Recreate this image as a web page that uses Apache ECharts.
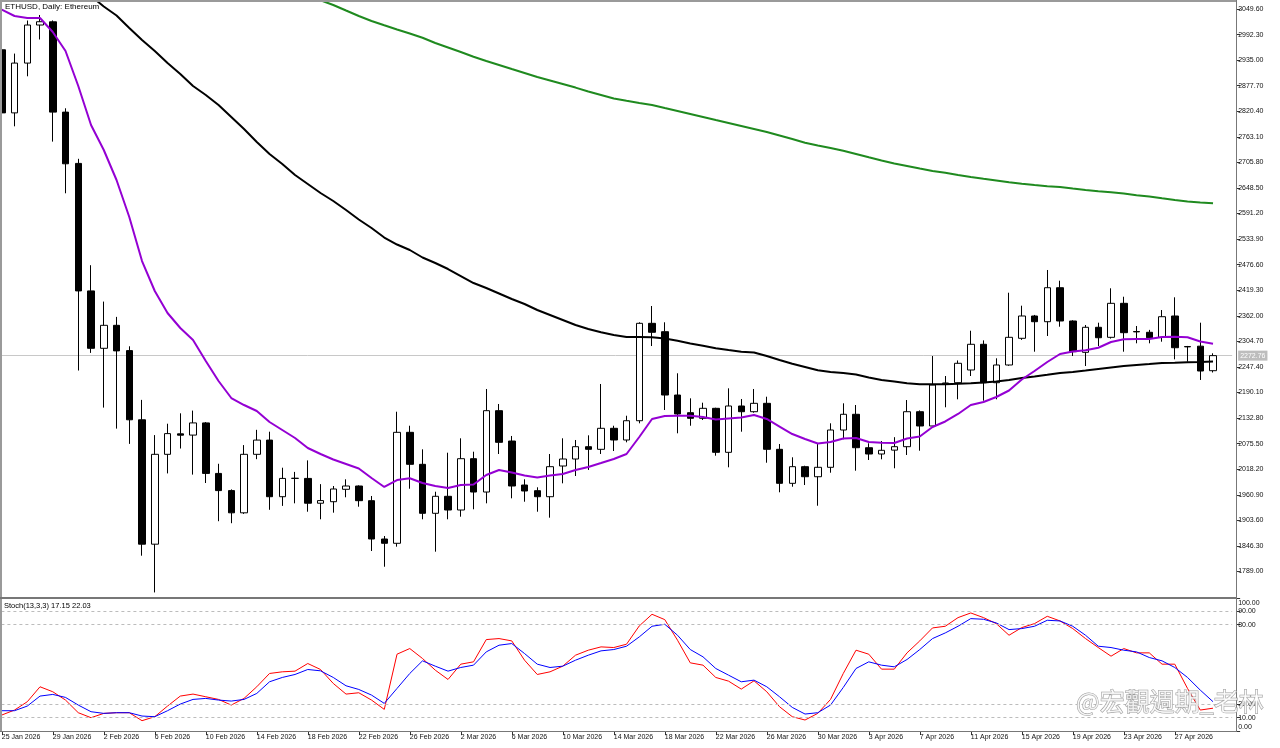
<!DOCTYPE html>
<html>
<head>
<meta charset="utf-8">
<title>ETHUSD Daily</title>
<script src="https://cdn.jsdelivr.net/npm/echarts@6.0.0/dist/echarts.min.js"></script>
<style>
html, body { margin: 0; padding: 0; background: #fff; }
#chart { width: 1280px; height: 748px; }
</style>
</head>
<body>
<div id="chart"></div>
<script>
// daily bars, 25 Jan 2026 .. 30 Apr 2026
var monthSpans = [['Jan', 25, 31], ['Feb', 1, 28], ['Mar', 1, 31], ['Apr', 1, 30]];
var dates = [];
monthSpans.forEach(function (m) {
    for (var d = m[1]; d <= m[2]; d++) dates.push(d + ' ' + m[0] + ' 2026');
});

var opens = [2958.2, 2816.8, 2928.4, 3013.7, 3020.9, 2818.5, 2703.6, 2417.8, 2289.2, 2340.7,
    2284.0, 2129.0, 1850.2, 2051.6, 2097.5, 2094.7, 2122.0, 2008.8, 1970.3, 1920.5,
    2051.6, 2083.5, 1956.6, 1997.6, 1997.6, 1942.0, 1945.4, 1973.2, 1980.6, 1947.7,
    1861.8, 1852.2, 2100.9, 2029.2, 1919.4, 1957.5, 1926.8, 2041.8, 1967.1, 2149.4,
    2081.4, 1982.8, 1970.1, 1956.6, 2025.4, 2041.1, 2068.7, 2062.8, 2109.9, 2083.7,
    2126.9, 2345.2, 2326.4, 2184.5, 2144.9, 2132.3, 2154.7, 2056.1, 2159.9, 2147.1,
    2165.9, 2062.8, 1986.6, 2023.9, 2001.4, 2022.5, 2106.1, 2141.3, 2066.4, 2052.3,
    2061.0, 2068.7, 2147.1, 2115.1, 2209.5, 2212.1, 2240.6, 2298.2, 2212.1, 2251.8,
    2311.6, 2361.6, 2348.8, 2425.0, 2350.4, 2280.2, 2336.3, 2313.8, 2390.0, 2326.8,
    2325.1, 2313.8, 2361.6, 2293.2, 2294.0, 2239.0];
var closes = [2816.8, 2928.4, 3013.7, 3021.1, 2818.5, 2702.7, 2417.8, 2289.2, 2340.7, 2283.4,
    2129.0, 1850.2, 2051.6, 2098.0, 2094.5, 2122.0, 2008.8, 1970.3, 1920.5, 2051.6,
    2083.5, 1956.6, 1997.6, 1998.0, 1942.0, 1947.9, 1973.9, 1980.6, 1947.7, 1861.8,
    1852.2, 2100.9, 2029.2, 1919.4, 1957.5, 1926.8, 2041.8, 1967.1, 2149.4, 2078.5,
    1980.6, 1969.4, 1956.6, 2023.9, 2041.1, 2068.7, 2062.8, 2109.9, 2083.7, 2126.9,
    2345.2, 2325.1, 2184.5, 2142.0, 2132.3, 2154.7, 2056.1, 2159.9, 2147.1, 2165.9,
    2062.8, 1986.6, 2023.9, 2001.4, 2022.5, 2106.1, 2141.3, 2066.4, 2052.3, 2060.6,
    2068.7, 2147.1, 2115.1, 2206.9, 2211.5, 2255.6, 2298.2, 2212.1, 2251.8, 2313.8,
    2361.6, 2348.8, 2425.0, 2350.4, 2281.6, 2336.3, 2312.9, 2390.0, 2324.2, 2326.0,
    2312.9, 2360.0, 2290.5, 2292.4, 2238.3, 2272.76];
var lows = [2812.0, 2786.7, 2898.8, 2981.3, 2752.4, 2636.6, 2239.4, 2278.9, 2156.3, 2109.2,
    2075.0, 1824.4, 1742.1, 2008.8, 2064.6, 2006.1, 1987.3, 1901.7, 1897.2, 1918.0,
    2040.7, 1927.3, 1936.0, 1941.8, 1923.0, 1906.0, 1920.8, 1955.3, 1934.2, 1834.9,
    1799.7, 1844.6, 1974.5, 1906.0, 1833.4, 1906.0, 1911.8, 1928.4, 1941.8, 2052.3,
    1953.0, 1945.4, 1923.0, 1909.6, 1986.6, 2003.0, 2016.5, 2052.3, 2059.0, 2078.5,
    2121.1, 2294.3, 2150.9, 2098.7, 2115.7, 2128.5, 2048.5, 2022.5, 2102.3, 2144.9,
    2032.8, 1966.5, 1979.0, 1982.8, 1936.4, 2010.4, 2085.3, 2014.9, 2038.9, 2040.4,
    2020.3, 2050.1, 2059.7, 2112.0, 2157.0, 2174.9, 2227.1, 2171.8, 2174.9, 2250.0,
    2308.0, 2281.6, 2316.8, 2337.6, 2271.9, 2249.5, 2294.3, 2311.0, 2281.6, 2300.4,
    2300.4, 2304.0, 2264.5, 2259.2, 2218.2, 2235.0];
var highs = [2962.0, 2949.7, 3023.8, 3036.2, 3024.0, 2827.1, 2713.9, 2475.4, 2393.9, 2359.6,
    2293.7, 2173.6, 2094.7, 2120.2, 2143.5, 2149.6, 2124.0, 2030.4, 1973.0, 2072.3,
    2106.5, 2102.3, 2021.6, 2012.2, 2038.0, 1984.8, 1980.6, 1995.6, 1982.0, 1958.2,
    1868.5, 2147.1, 2115.7, 2062.8, 1967.8, 2055.2, 2087.5, 2057.5, 2198.0, 2164.4,
    2092.7, 1995.6, 1977.7, 2052.3, 2087.5, 2083.7, 2094.2, 2209.2, 2115.7, 2138.1,
    2347.5, 2384.0, 2347.5, 2233.2, 2177.1, 2167.3, 2156.0, 2199.5, 2175.6, 2198.0,
    2180.7, 2074.7, 2044.9, 2026.0, 2076.3, 2121.1, 2165.9, 2162.1, 2076.3, 2081.4,
    2090.0, 2173.3, 2150.0, 2271.9, 2227.1, 2262.0, 2328.6, 2307.0, 2266.8, 2413.8,
    2384.7, 2364.0, 2464.7, 2440.7, 2352.0, 2341.4, 2346.6, 2423.7, 2404.8, 2339.2,
    2330.5, 2375.0, 2403.5, 2294.5, 2346.6, 2278.0];

// moving averages as drawn on the chart
var maFast = [3048.3, 3033.9, 3029.4, 3029.4, 2998.1, 2955.5, 2877.0, 2789.6, 2733.6, 2666.4,
    2583.5, 2484.8, 2417.6, 2368.3, 2334.7, 2307.8, 2260.7, 2215.9, 2177.8, 2162.1,
    2148.7, 2124.0, 2106.1, 2088.2, 2065.8, 2052.3, 2040.0, 2029.9, 2019.8, 1998.5,
    1978.4, 1994.0, 1997.9, 1987.3, 1980.6, 1976.1, 1982.8, 1984.0, 2005.3, 2016.5,
    2010.9, 2004.1, 1999.7, 2004.1, 2007.5, 2016.5, 2023.2, 2032.1, 2041.1, 2052.3,
    2090.4, 2130.8, 2137.5, 2138.1, 2138.1, 2135.2, 2129.6, 2131.9, 2134.1, 2139.7,
    2130.8, 2113.9, 2097.1, 2085.9, 2075.8, 2079.2, 2087.1, 2088.2, 2079.2, 2077.6,
    2077.0, 2087.1, 2091.5, 2112.8, 2125.2, 2142.0, 2162.1, 2168.9, 2180.1, 2194.6,
    2219.3, 2238.3, 2258.5, 2276.4, 2282.0, 2284.7, 2290.5, 2303.3, 2309.6, 2310.0,
    2310.0, 2314.5, 2315.0, 2314.1, 2304.4, 2299.3];
var maMid = [null, null, null, null, null, null,
    3103.4, 3078.7, 3055.2, 3035.0, 3007.0, 2980.1, 2955.5, 2928.6, 2903.9, 2877.0,
    2856.9, 2834.5, 2807.6, 2780.7, 2751.5, 2724.6, 2702.2, 2677.6, 2657.4, 2637.2,
    2619.3, 2599.1, 2577.9, 2558.8, 2537.5, 2521.8, 2509.5, 2492.7, 2480.4, 2466.9,
    2451.2, 2435.5, 2424.3, 2412.0, 2399.7, 2388.5, 2375.0, 2363.8, 2352.6, 2341.4,
    2332.5, 2325.1, 2319.0, 2314.5, 2314.5, 2313.9, 2311.2, 2306.0, 2300.0, 2295.0,
    2289.4, 2285.4, 2281.6, 2279.8, 2271.9, 2263.0, 2254.5, 2247.3, 2240.1, 2236.1,
    2233.8, 2230.5, 2223.8, 2218.2, 2214.8, 2211.0, 2208.5, 2208.5, 2208.7, 2209.6,
    2210.8, 2212.6, 2214.8, 2218.2, 2222.6, 2226.0, 2229.8, 2233.8, 2236.1, 2239.4,
    2242.8, 2246.2, 2249.5, 2251.8, 2254.0, 2256.3, 2256.9, 2257.8, 2258.5, 2259.6];
var maSlow = [null, null, null, null, null, null, null, null, null, null, null, null,
    null, null, null, null, null, null, null, null, null, null, null, null,
    3079.9, 3069.3, 3058.6, 3046.2, 3033.9, 3022.7, 3013.1, 3003.7, 2994.7, 2985.1,
    2973.4, 2963.3, 2953.2, 2942.5, 2933.1, 2924.1, 2915.1, 2906.2, 2897.2, 2889.4,
    2881.5, 2873.5, 2864.7, 2856.9, 2849.0, 2843.9, 2838.9, 2834.5, 2827.7, 2821.0,
    2814.3, 2807.6, 2800.8, 2794.1, 2787.4, 2780.7, 2773.9, 2766.1, 2758.3, 2750.0,
    2743.7, 2738.1, 2731.8, 2724.6, 2717.2, 2710.1, 2703.4, 2697.8, 2692.1, 2686.5,
    2682.5, 2677.6, 2673.1, 2669.1, 2665.3, 2661.2, 2658.1, 2655.2, 2652.5, 2650.7,
    2647.3, 2644.0, 2641.1, 2639.0, 2636.1, 2632.3, 2629.4, 2625.4, 2621.6, 2618.2, 2616.0, 2614.2];

// Stoch(13,3,3)
var stochMain = [12, 15.75, 22, 33.25, 29.5, 23.25, 13.75, 10, 13.25, 13.75,
    13.75, 7.75, 10.75, 18.75, 26.25, 27.75, 25.75, 23.75, 19.5, 24.5,
    33.25, 43.25, 44.5, 45, 50.75, 46.25, 35.75, 27.75, 28.75, 23.25,
    16.25, 57.75, 62, 54.5, 45.75, 38.75, 50.25, 52, 68.75, 69.5,
    67.75, 53.25, 42.5, 44.5, 48.75, 57, 60.75, 63.25, 62.75, 65.25,
    79, 87.75, 83.75, 68.25, 51.25, 49.5, 40.25, 37.5, 31.5, 37.75,
    29.5, 18.25, 10.75, 8.25, 13.25, 23.75, 43.25, 60.75, 57.75, 46.5,
    46.5, 58.75, 67.75, 77.5, 78.75, 85.25, 88.75, 85.25, 80.75, 72,
    77.75, 80.75, 86.25, 82.75, 77, 69.5, 62.75, 56.25, 62, 58.75,
    58.75, 50.25, 50.25, 32, 15.75, 17.15];
var stochSignal = [15.25, 15.25, 18.75, 26.25, 27.5, 25.25, 19.5, 14.5, 13.25, 13.75,
    13.75, 11.25, 10.75, 15.25, 20.25, 23.75, 24.5, 23.25, 22.5, 23.75,
    28.25, 37, 40.25, 42.5, 46.25, 45.25, 40.25, 34, 31.25, 27,
    20.75, 32, 43.25, 52.75, 48.75, 45, 47.75, 49.5, 59.5, 64.5,
    65.75, 58.25, 50.25, 47.75, 48.75, 53.25, 57, 60.25, 61.25, 63.75,
    70.75, 78.75, 80.25, 72, 61.25, 55.75, 47, 42, 37, 38.25,
    33.25, 25.75, 17.75, 12.75, 13.75, 19.5, 32.75, 47, 52, 49.5,
    48.25, 53.75, 61.25, 69.5, 73.75, 78.75, 84.5, 84, 81.25, 76.25,
    77, 78.75, 83.25, 82.75, 78.75, 72, 63.75, 62.75, 60.75, 59.5,
    55.25, 52.75, 47.75, 40.25, 30.75, 22.03];

var priceTicks = [1789.00, 1846.30, 1903.60, 1960.90, 2018.20, 2075.50, 2132.80, 2190.10,
    2247.40, 2304.70, 2362.00, 2419.30, 2476.60, 2533.90, 2591.20, 2648.50, 2705.80,
    2763.10, 2820.40, 2877.70, 2935.00, 2992.30, 3049.60];
var stochTicks = [0, 10, 20, 80, 90, 100];
var stochLevels = [10, 20, 80, 90];
var lastPrice = 2272.76;

var categories = dates.concat(['']);
var ohlc = dates.map(function (d, i) {
    return [opens[i], closes[i], lows[i], highs[i]];
});
var levelLines = stochLevels.map(function (v) { return {yAxis: v}; });

var FONT = 'Liberation Sans';
var TXT = '#111';
var showEvery4 = function (idx, val) { return val !== '' && idx % 4 === 0; };

var dom = document.getElementById('chart');
var myChart = echarts.init(dom, null, {renderer: 'canvas'});

var option = {
    backgroundColor: '#ffffff',
    animation: false,
    grid: [
        {left: -4.6, top: 2, width: 1236.75, height: 596, outerBoundsMode: 'none', containLabel: false},
        {left: -4.6, top: 598, width: 1236.75, height: 133, outerBoundsMode: 'none', containLabel: false}
    ],
    xAxis: [
        {type: 'category', gridIndex: 0, data: categories, boundaryGap: true, show: false},
        {
            type: 'category', gridIndex: 1, data: categories, boundaryGap: true,
            axisLine: {show: true, lineStyle: {color: '#777', width: 1}},
            axisTick: {show: true, alignWithLabel: true, length: 4, interval: showEvery4, lineStyle: {color: '#333'}},
            axisLabel: {interval: showEvery4, align: 'left', margin: 3, fontSize: 7, fontFamily: FONT, color: TXT},
            splitLine: {show: false}
        }
    ],
    yAxis: [
        {
            type: 'value', gridIndex: 0, position: 'right', offset: 4,
            min: 1729.6, max: 3065.3, scale: true,
            axisLine: {show: false},
            splitLine: {show: false},
            axisTick: {show: true, length: 4, customValues: priceTicks, lineStyle: {color: '#333'}},
            axisLabel: {
                customValues: priceTicks, margin: 2, fontSize: 7, fontFamily: FONT, color: TXT,
                formatter: function (v) { return v.toFixed(2); }
            }
        },
        {
            type: 'value', gridIndex: 1, position: 'right', offset: 4,
            min: 0, max: 100,
            axisLine: {show: false},
            splitLine: {show: false},
            axisTick: {show: true, length: 4, customValues: stochTicks, lineStyle: {color: '#333'}},
            axisLabel: {
                customValues: stochTicks, margin: 2, fontSize: 7, fontFamily: FONT, color: TXT,
                formatter: function (v) {
                    if (v === 100) return '{t|100.00}';
                    if (v === 0) return '{b|0.00}';
                    return v.toFixed(2);
                },
                rich: {
                    t: {padding: [10, 0, 0, 0], fontSize: 7, fontFamily: FONT, color: TXT},
                    b: {padding: [0, 0, 8, 0], fontSize: 7, fontFamily: FONT, color: TXT}
                }
            }
        }
    ],
    series: [
        {
            name: 'ETHUSD', type: 'candlestick', xAxisIndex: 0, yAxisIndex: 0,
            data: ohlc, barWidth: 7, z: 3,
            itemStyle: {
                color: '#ffffff', color0: '#000000',
                borderColor: '#000000', borderColor0: '#000000', borderColorDoji: '#000000',
                borderWidth: 1
            },
            markLine: {
                silent: true, symbol: ['none', 'none'], animation: false, z: 1,
                lineStyle: {color: '#c8c8c8', type: 'solid', width: 1},
                label: {
                    show: true, position: 'end', distance: 6,
                    formatter: lastPrice.toFixed(2),
                    fontSize: 7, fontFamily: FONT, color: '#ffffff',
                    backgroundColor: '#bdbdbd', padding: [2, 2, 1, 2]
                },
                data: [{yAxis: lastPrice}]
            }
        },
        {
            name: 'MA slow', type: 'line', xAxisIndex: 0, yAxisIndex: 0, data: maSlow,
            symbol: 'none', silent: true, z: 4,
            lineStyle: {color: '#1f8a1f', width: 2}
        },
        {
            name: 'MA mid', type: 'line', xAxisIndex: 0, yAxisIndex: 0, data: maMid,
            symbol: 'none', silent: true, z: 4,
            lineStyle: {color: '#000000', width: 2}
        },
        {
            name: 'MA fast', type: 'line', xAxisIndex: 0, yAxisIndex: 0, data: maFast,
            symbol: 'none', silent: true, z: 5,
            lineStyle: {color: '#9400d3', width: 2}
        },
        {
            name: 'Stoch main', type: 'line', xAxisIndex: 1, yAxisIndex: 1, data: stochMain,
            symbol: 'none', silent: true, z: 4,
            lineStyle: {color: '#ff0000', width: 1},
            markLine: {
                silent: true, symbol: ['none', 'none'], animation: false,
                lineStyle: {color: '#bcbcbc', type: [3, 3], width: 1},
                label: {show: false},
                data: levelLines
            }
        },
        {
            name: 'Stoch signal', type: 'line', xAxisIndex: 1, yAxisIndex: 1, data: stochSignal,
            symbol: 'none', silent: true, z: 4,
            lineStyle: {color: '#0000ff', width: 1}
        }
    ],
    graphic: {
        elements: [
            {type: 'line', silent: true, z: 100, shape: {x1: 0, y1: 1, x2: 1237, y2: 1}, style: {stroke: '#9a9a9a', lineWidth: 2}},
            {type: 'line', silent: true, z: 100, shape: {x1: 1, y1: 0, x2: 1, y2: 731}, style: {stroke: '#9a9a9a', lineWidth: 2}},
            {type: 'line', silent: true, z: 100, shape: {x1: 1236.5, y1: 0, x2: 1236.5, y2: 732}, style: {stroke: '#777', lineWidth: 1}},
            {type: 'line', silent: true, z: 100, shape: {x1: 0, y1: 598, x2: 1237, y2: 598}, style: {stroke: '#777', lineWidth: 2}},
            {type: 'line', silent: true, z: 100, shape: {x1: 0, y1: 731.5, x2: 1237, y2: 731.5}, style: {stroke: '#777', lineWidth: 1}},
            {type: 'text', silent: true, z: 100, x: 5, y: 3,
                style: {text: 'ETHUSD, Daily: Ethereum', font: '8px "Liberation Sans"', fill: '#000'}},
            {type: 'text', silent: true, z: 100, x: 4, y: 602,
                style: {text: 'Stoch(13,3,3) 17.15 22.03', font: '7.5px "Liberation Sans"', fill: '#000'}},
            {type: 'text', silent: true, z: 100, x: 1076, y: 689,
                style: {text: '@宏觀週期_老林', font: '25px "Noto Sans CJK TC"',
                    fill: 'rgba(255,255,255,0.75)', stroke: '#9c9c9c', lineWidth: 1}}
        ]
    }
};

myChart.setOption(option);
</script>
</body>
</html>
